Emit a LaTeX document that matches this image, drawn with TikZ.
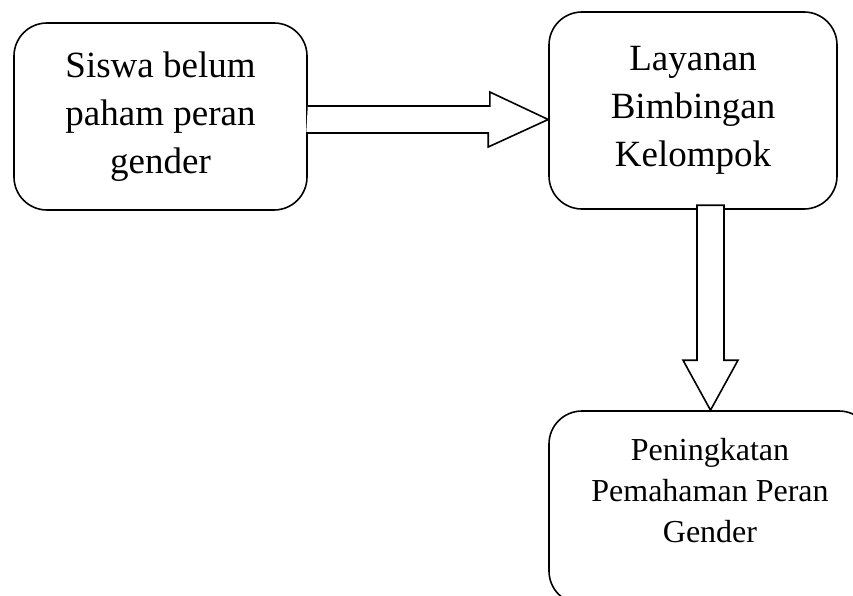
\documentclass[tikz,border=0pt]{standalone}
\usepackage{fontspec}
\setmainfont{Liberation Serif}
\usetikzlibrary{calc}

\tikzset{
    box/.style={draw, line width=1.6pt, rounded corners=33pt, align=center, inner sep=0pt},
    bigtext/.style={font=\fontsize{37}{48}\selectfont},
    smalltext/.style={font=\fontsize{32}{41}\selectfont, align=center},
    blockarrow/.style={draw, fill=white, line width=1.6pt, line join=miter}
}

\begin{document}
\begin{tikzpicture}[x=1pt, y=1pt]
    % Fix the page to the size of the picture
    \clip (0,0) rectangle (853,-596);

    % Draw the three boxes
    \node[box, bigtext, minimum width=293pt, minimum height=187pt] (cause) at (160.5,-116.5) {Siswa belum\\paham peran\\gender};
    \node[box, bigtext, minimum width=288pt, minimum height=197pt] (service) at (693,-110.5) {Layanan\\Bimbingan\\Kelompok};
    \node[box, minimum width=323pt, minimum height=193pt] (gain) at (710.5,-507.5) {};
    \node[smalltext] (gaintext) at (710,-491) {Peningkatan\\Pemahaman Peran\\Gender};

    % Draw the block arrow from the first box to the second
    \coordinate (start) at ($(cause.east)+(0,-3)$);
    \coordinate (tip) at (service.west |- start);
    \draw[blockarrow] (start) ++(0,13.5) -- ++(182,0) -- ++(0,14) -- (tip)
        -- ++(-60,-27.5) -- ++(0,14) -- ++(-182,0);

    % Draw the block arrow from the second box down to the third
    \draw[blockarrow] (gain.north) -- ++(-27.5,50) -- ++(14,0) -- ++(0,155)
        -- ++(27,0) -- ++(0,-155) -- ++(14,0) -- cycle;
\end{tikzpicture}
\end{document}
